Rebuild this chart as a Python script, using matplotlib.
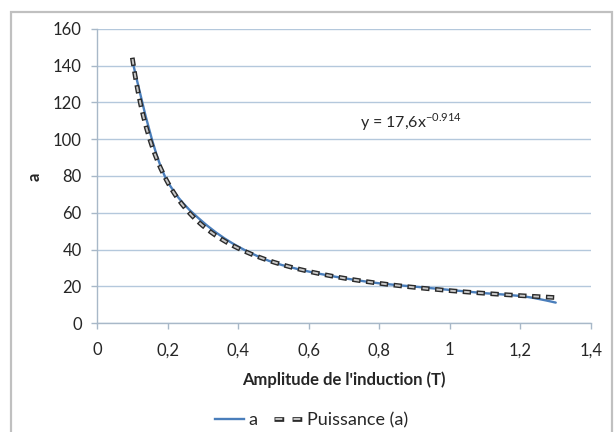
import numpy as np
import matplotlib
matplotlib.use("Agg")
import matplotlib.pyplot as plt
from matplotlib.path import Path
from matplotlib.patches import PathPatch, Rectangle
from matplotlib.lines import Line2D

plt.rcParams["font.family"] = ["Lato", "DejaVu Sans"]
plt.rcParams["lines.scale_dashes"] = False

# Measured series "a" versus induction amplitude
induction = [0.1, 0.2, 0.3, 0.4, 0.5, 0.6, 0.7, 0.8, 0.9, 1.0, 1.1, 1.2, 1.3]
a_values = [143, 77, 55, 41.6, 33, 28, 24.4, 21.6, 19.8, 18, 16.2, 14.7, 11.1]

# Power-law trend y = k * x^p
k_coef = 17.6
p_exp = -0.914
eq_label = "y = 17,6x$^{\\mathregular{-0.914}}$"

x_ticks = [0, 0.2, 0.4, 0.6, 0.8, 1.0, 1.2, 1.4]
x_tick_labels = ["0", "0,2", "0,4", "0,6", "0,8", "1", "1,2", "1,4"]
y_ticks = [0, 20, 40, 60, 80, 100, 120, 140, 160]

BLUE = "#4a7ebb"
GRID = "#b4c8dc"
AXIS = "#a8b8c8"
TXT = "#262626"
DASH_DARK = "#2b2b2b"
DASH_LIGHT = "#c8c8c8"

fig = plt.figure(figsize=(6.14, 4.32), dpi=100)
fig.patch.set_facecolor("white")
fig.add_artist(Rectangle((11 / 614, -0.01), 601 / 614, 1 - 12 / 432 + 0.01,
                         transform=fig.transFigure, fill=False,
                         edgecolor="#c0c0c0", linewidth=1.6))

ax = fig.add_axes([97 / 614, 109 / 432, 494 / 614, 294 / 432])
ax.set_xlim(0, 1.4)
ax.set_ylim(0, 160)
ax.set_xticks(x_ticks)
ax.set_xticklabels(x_tick_labels)
ax.set_yticks(y_ticks)
ax.grid(axis="y", color=GRID, linewidth=1.0)
ax.set_axisbelow(True)
for side in ("top", "right"):
    ax.spines[side].set_visible(False)
for side in ("left", "bottom"):
    ax.spines[side].set_color(AXIS)
    ax.spines[side].set_linewidth(1.0)
ax.tick_params(axis="both", direction="out", length=4, width=1.0, color=AXIS,
               labelsize=12, labelcolor=TXT)
ax.tick_params(axis="y", pad=7)
ax.tick_params(axis="x", pad=10)


def smooth_path(xs, ys):
    """Monotone cubic (Fritsch-Carlson) curve written as Bezier segments."""
    xs = np.asarray(xs, float)
    ys = np.asarray(ys, float)
    n = len(xs)
    h = np.diff(xs)
    s = np.diff(ys) / h
    m = np.zeros(n)
    for i in range(1, n - 1):
        if s[i - 1] * s[i] > 0:
            m[i] = 2.0 / (1.0 / s[i - 1] + 1.0 / s[i])
    m[0] = (3 * s[0] - m[1]) / 2
    m[-1] = (3 * s[-1] - m[-2]) / 2
    verts = [(xs[0], ys[0])]
    codes = [Path.MOVETO]
    for i in range(n - 1):
        c1 = (xs[i] + h[i] / 3, ys[i] + m[i] * h[i] / 3)
        c2 = (xs[i + 1] - h[i] / 3, ys[i + 1] - m[i + 1] * h[i] / 3)
        verts += [c1, c2, (xs[i + 1], ys[i + 1])]
        codes += [Path.CURVE4] * 3
    return Path(verts, codes)


ax.add_patch(PathPatch(smooth_path(induction, a_values), facecolor="none",
                       edgecolor=BLUE, linewidth=1.7, zorder=3,
                       capstyle="round", joinstyle="round"))

# Trend curve drawn from the fitted expression
xt = np.linspace(induction[0], induction[-1], 300)
yt = k_coef * xt ** p_exp
outer_dash = (0, (6.0, 4.0))
inner_dash = (-1.0, (4.0, 6.0))
ax.plot(xt, yt, color=DASH_DARK, linewidth=3.4, linestyle=outer_dash,
        dash_capstyle="butt", zorder=4)
ax.plot(xt, yt, color=DASH_LIGHT, linewidth=1.4, linestyle=inner_dash,
        dash_capstyle="butt", zorder=5)

ax.text(360, 432 - 128, eq_label, transform=None, fontsize=11.5, color=TXT,
        ha="left", va="baseline")

fig.text(344 / 614, 1 - 380 / 432, "Amplitude de l'induction (T)",
         ha="center", va="center", fontsize=12, fontweight="bold", color=TXT)
fig.text(35 / 614, 1 - 177 / 432, "a", ha="center", va="center",
         rotation=90, fontsize=12, fontweight="bold", color=TXT)

blue_handle = Line2D([], [], color=BLUE, linewidth=1.7)
leg_outer = Line2D([], [], color=DASH_DARK, linewidth=3.4,
                   linestyle=(0, (7.0, 6.0)), dash_capstyle="butt")
leg_inner = Line2D([], [], color=DASH_LIGHT, linewidth=1.4,
                   linestyle=(-1.0, (5.0, 8.0)), dash_capstyle="butt")
fig.legend([blue_handle, (leg_outer, leg_inner)], ["a", "Puissance (a)"],
           loc="center", bbox_to_anchor=(312 / 614, 1 - 420 / 432),
           ncol=2, frameon=False, fontsize=13, handlelength=1.6,
           handletextpad=0.25, columnspacing=0.9, labelcolor=TXT)

fig.savefig("out.png", dpi=100, facecolor="white")
